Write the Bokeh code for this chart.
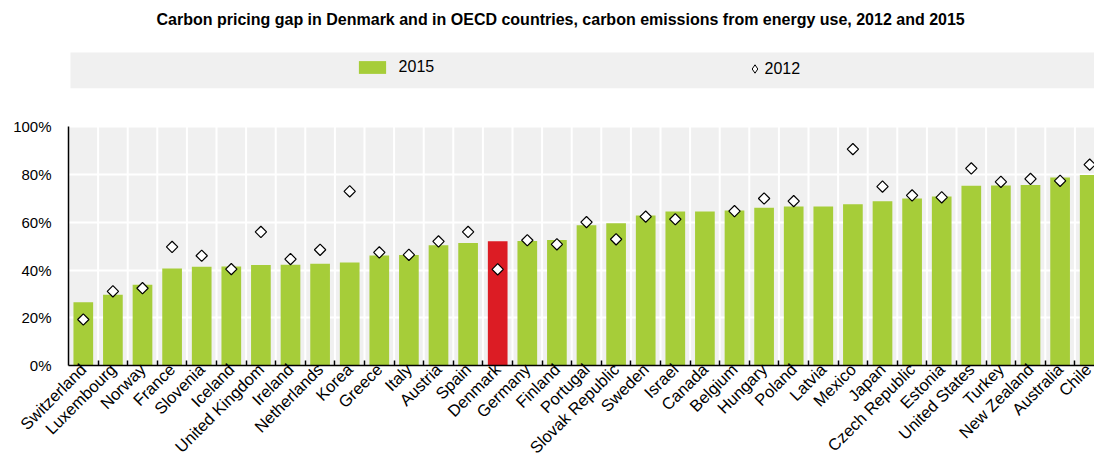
import numpy as np
from math import pi
from bokeh.plotting import figure
from bokeh.models import (Range1d, FixedTicker, ColumnDataSource, Legend, LegendItem,
                          PrintfTickFormatter)
from bokeh.embed import file_html
from bokeh.resources import INLINE

# ---------------- data ----------------
countries = ["Switzerland", "Luxembourg", "Norway", "France", "Slovenia", "Iceland",
             "United Kingdom", "Ireland", "Netherlands", "Korea", "Greece", "Italy",
             "Austria", "Spain", "Denmark", "Germany", "Finland", "Portugal",
             "Slovak Republic", "Sweden", "Israel", "Canada", "Belgium", "Hungary",
             "Poland", "Latvia", "Mexico", "Japan", "Czech Republic", "Estonia",
             "United States", "Turkey", "New Zealand", "Australia", "Chile"]
gap_2015 = [26.5, 29.7, 33.9, 40.7, 41.4, 41.5, 42.1, 42.2, 42.6, 43.2, 46.1, 46.3,
            50.4, 51.3, 52.1, 52.2, 52.6, 58.8, 59.6, 62.9, 64.6, 64.6, 65.0, 66.1,
            66.7, 66.7, 67.6, 68.8, 70.0, 70.8, 75.3, 75.4, 75.7, 78.8, 79.9]
gap_2012 = [19.3, 31.1, 32.4, 49.7, 46.0, 40.4, 56.0, 44.6, 48.5, 73.0, 47.4, 46.4,
            52.0, 56.0, 40.3, 52.5, 50.8, 60.1, 52.9, 62.4, 61.3, None, 64.7, 70.0,
            68.9, None, 90.7, 75.0, 71.3, 70.5, 82.6, 77.0, 78.2, 77.4, 84.2]
highlight = "Denmark"
y_ticks = [0, 20, 40, 60, 80, 100]
title_text = ("Carbon pricing gap in Denmark and in OECD countries, carbon emissions "
              "from energy use, 2012 and 2015")
series_labels = ["2015", "2012"]

# ---------------- styling / layout ----------------
GREEN = "#a6cd39"
RED = "#dc1c24"
GRAY = "#f0f0f0"
FONT = "Liberation Sans"

W, H = 1094, 465
LEFT, TOP, BOTTOM = 68, 32, 98
BAND_PX = 29.6
frame_w = W - LEFT
frame_h = H - TOP - BOTTOM
frame_bottom_px = TOP + frame_h          # pixel row of 0 %
x_lo = -0.5
x_hi = x_lo + frame_w / BAND_PX
px_per_unit = 2.4
y_top = frame_h / px_per_unit

def ypix(py):
    """data y for a pixel row (used only for the decorative legend band)"""
    return (frame_bottom_px - py) / px_per_unit

n = len(countries)
idx = list(range(n))
src = ColumnDataSource(dict(
    x=idx,
    v15=gap_2015,
    v12=[np.nan if v is None else v for v in gap_2012],
    color=[RED if c == highlight else GREEN for c in countries],
))

p = figure(width=W, height=H, x_range=Range1d(x_lo, x_hi), y_range=Range1d(0, y_top),
           output_backend="svg", toolbar_location=None,
           min_border_left=LEFT, min_border_right=0, min_border_top=TOP,
           min_border_bottom=BOTTOM, background_fill_color="white",
           border_fill_color="white", outline_line_color=None)

p.title.text = title_text
p.title.align = "left"
p.title.offset = 88
p.title.standoff = 10
p.title.text_font = FONT
p.title.text_font_size = "16px"
p.title.text_font_style = "bold"
p.title.text_color = "#000000"

# plot-area background and legend band
p.quad(left=x_lo, right=x_hi, bottom=0, top=100, fill_color=GRAY, line_color=None,
       level="image")
p.quad(left=x_lo + 2 / BAND_PX, right=x_hi, bottom=ypix(88), top=ypix(52),
       fill_color=GRAY, line_color=None, level="image")

# vertical white grid lines between bars
bx = [i + 0.5 for i in range(n)]
p.segment(x0=bx, y0=0, x1=bx, y1=100, line_color="white", line_width=2, level="underlay")

p.xgrid.visible = False
p.ygrid.ticker = FixedTicker(ticks=y_ticks)
p.ygrid.grid_line_color = "white"
p.ygrid.grid_line_width = 2

r_bar = p.vbar(x="x", top="v15", width=0.665, fill_color="color", line_color=None,
               source=src)
r_pt = p.scatter(x="x", y="v12", marker="square", angle=pi / 4, size=8,
                 fill_color="white", line_color="black", line_width=1.2, source=src)
# legend swatch for the 2012 marker (legend glyphs are drawn unrotated)
r_key = p.scatter(x=[np.nan], y=[np.nan], marker="diamond", size=8,
                  fill_color="white", line_color="black", line_width=1)

# axes
yax = p.yaxis[0]
yax.ticker = FixedTicker(ticks=y_ticks)
yax.bounds = (0, 100)
yax.formatter = PrintfTickFormatter(format="%d%%")
yax.axis_line_color = "black"
yax.axis_line_width = 1.5
yax.major_tick_in = 0
yax.major_tick_out = 0
yax.minor_tick_line_color = None
yax.major_label_standoff = 17
yax.major_label_text_font = FONT
yax.major_label_text_font_size = "15px"
yax.major_label_text_color = "#000000"

xax = p.xaxis[0]
xax.ticker = FixedTicker(ticks=idx, minor_ticks=bx)
xax.major_label_overrides = {i: c for i, c in enumerate(countries)}
xax.major_label_orientation = pi / 4
xax.axis_line_color = "black"
xax.axis_line_width = 1.5
xax.major_tick_in = 0
xax.major_tick_out = 0
xax.minor_tick_in = 5
xax.minor_tick_out = 0
xax.minor_tick_line_color = "black"
xax.minor_tick_line_width = 1.5
xax.major_label_standoff = 1
xax.major_label_text_font = FONT
xax.major_label_text_font_size = "16.5px"
xax.major_label_text_color = "#000000"

# legends (two single-item legends inside the grey band)
def make_legend(label, rend, loc, gw, gh, standoff):
    return Legend(items=[LegendItem(label=label, renderers=[rend], index=0)],
                  location=loc, orientation="horizontal", padding=0, margin=0,
                  spacing=0, border_line_color=None, background_fill_alpha=0,
                  glyph_width=gw, glyph_height=gh, label_height=13,
                  label_standoff=standoff, label_text_font=FONT,
                  label_text_font_size="16px", label_text_color="#000000")

# 2015 swatch: drawn rect is inset 10% inside the glyph box
p.add_layout(make_legend(series_labels[0], r_bar,
                         (358 - 3.4 - LEFT, frame_bottom_px - 77.6), 34, 16, 10))
p.add_layout(make_legend(series_labels[1], r_key,
                         (743.5 - LEFT, frame_bottom_px - 81), 21, 21, 0))

open("out.html", "w").write(file_html(p, INLINE))
